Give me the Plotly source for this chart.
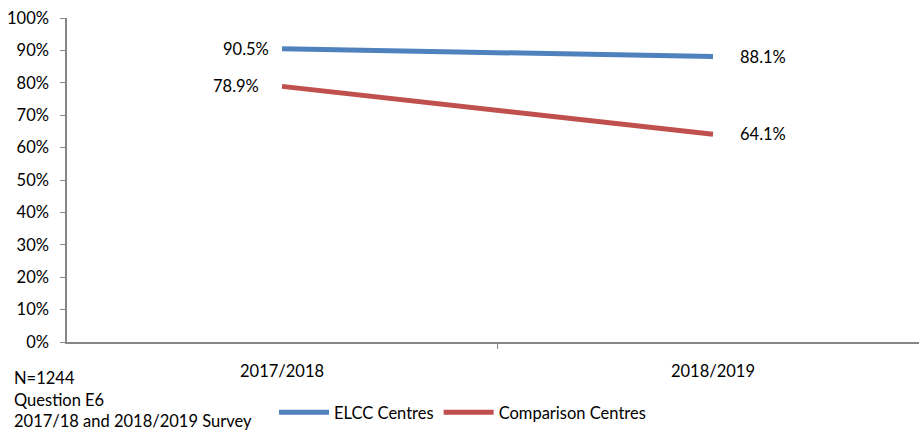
import plotly.graph_objects as go

years = ["2017/2018", "2018/2019"]
elcc = [90.5, 88.1]
comparison = [78.9, 64.1]
y_ticks = list(range(0, 101, 10))
notes = ["N=1244", "Question E6", "2017/18 and 2018/2019 Survey"]

FONT = "Lato, 'Open Sans', sans-serif"
FS = 16.5
xpos = list(range(len(years)))

series = [
    ("ELCC Centres", elcc, "#4F81BD", [-11, 25]),
    ("Comparison Centres", comparison, "#C0504D", [-21, 25]),
]

fig = go.Figure()
for name, vals, color, shifts in series:
    fig.add_trace(go.Scatter(
        x=xpos, y=vals, mode="lines", name=name,
        line=dict(color=color, width=5),
    ))
    for xi, v, sh in zip(xpos, vals, shifts):
        fig.add_annotation(
            x=xi, y=v, text=f"{v:.1f}%", showarrow=False,
            xanchor="right" if sh < 0 else "left", xshift=sh,
            yanchor="middle", font=dict(family=FONT, size=FS, color="#000000"),
        )

# overlay axis carrying the category labels
fig.add_trace(go.Scatter(x=xpos, y=[None, None], xaxis="x2", showlegend=False,
                         hoverinfo="skip"))

fig.update_layout(
    width=919, height=430,
    margin=dict(l=67, r=0, t=18, b=88),
    paper_bgcolor="white", plot_bgcolor="white",
    font=dict(family=FONT, size=FS, color="#000000"),
    xaxis=dict(
        range=[-0.499, 1.478], tickvals=[-0.5, 0.5], ticktext=["", ""],
        ticks="outside", ticklen=5, tickcolor="#868686",
        showline=True, linecolor="#868686", linewidth=1.5,
        showgrid=False, zeroline=False,
    ),
    xaxis2=dict(
        overlaying="x", side="bottom", range=[-0.499, 1.478],
        tickvals=xpos, ticktext=years, ticks="", ticklabelstandoff=17,
        showline=False, showgrid=False, zeroline=False,
        tickfont=dict(family=FONT, size=FS),
    ),
    yaxis=dict(
        range=[0, 100], tickvals=y_ticks, ticktext=[f"{t}%" for t in y_ticks],
        ticks="outside", ticklen=5, tickcolor="#868686",
        showline=True, linecolor="#868686", linewidth=1.5,
        showgrid=False, zeroline=False, ticklabelstandoff=8,
        tickfont=dict(family=FONT, size=FS),
    ),
    legend=dict(
        orientation="h", x=0.243, xanchor="left", y=-0.165, yanchor="top",
        font=dict(family=FONT, size=FS), itemwidth=50,
        bgcolor="rgba(0,0,0,0)",
    ),
    showlegend=True,
)

for i, line in enumerate(notes):
    fig.add_annotation(
        text=line, xref="paper", yref="paper",
        x=-67 / 852, xanchor="left", xshift=12,
        y=0, yanchor="middle", yshift=-(378 - 342) - 21.5 * i,
        showarrow=False, font=dict(family=FONT, size=FS),
    )

fig.write_html("out.html")
